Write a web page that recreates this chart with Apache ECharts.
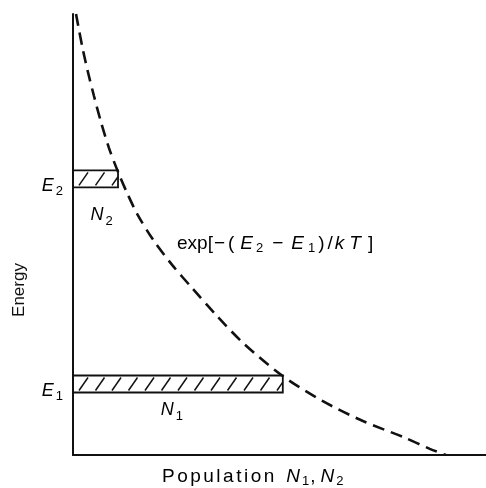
<!DOCTYPE html>
<html>
<head>
<meta charset="utf-8">
<script src="https://cdn.jsdelivr.net/npm/echarts@6/dist/echarts.min.js"></script>
<style>
  html, body { margin: 0; padding: 0; background: #fff; }
  #chart { width: 486px; height: 488px; }
</style>
</head>
<body>
<div id="chart"></div>
<script>
// Boltzmann distribution: population falls off with energy
const levelSubscripts  = ['2', '1'];         // E2 (upper), E1 (lower)
const levelEnergies    = [6.26, 1.61];       // energy of each level
const levelPopulations = [1.09, 5.08];       // N2, N1

// exp[-(E2 - E1)/kT] envelope: population vs energy
const curvePopulation = [0.073, 0.145, 0.242, 0.363, 0.508, 0.678, 0.872, 1.09, 1.31, 1.57, 1.94, 2.40, 2.88, 3.44, 4.12, 5.08, 6.05, 7.02, 7.99, 8.64, 9.03];
const curveEnergy     = [10.0, 9.64, 9.18, 8.68, 8.14, 7.55, 6.96, 6.42, 5.94, 5.44, 4.88, 4.31, 3.79, 3.20, 2.54, 1.79, 1.22, 0.77, 0.41, 0.14, 0.00];

const INK = '#111';
const FONT = '"Liberation Sans", Arial, sans-serif';

// rich-text building blocks: upright text, italic symbols, lowered subscripts
const baseStyles = {
  r: { fontFamily: FONT, fontSize: 18, color: INK, lineHeight: 18, verticalAlign: 'top' },
  i: { fontFamily: FONT, fontSize: 18, color: INK, lineHeight: 18, verticalAlign: 'top', fontStyle: 'italic' },
  R: { fontFamily: FONT, fontSize: 19, color: INK, lineHeight: 19, verticalAlign: 'top' },
  I: { fontFamily: FONT, fontSize: 19, color: INK, lineHeight: 19, verticalAlign: 'top', fontStyle: 'italic' },
  s: { fontFamily: FONT, fontSize: 13, color: INK, lineHeight: 13, verticalAlign: 'top' }
};
const SUB_DROP = 8;
const rich = {};
function tok(kind, text, pad) {
  pad = pad || 0;
  const name = kind + '_' + String(pad).replace('.', 'p');
  if (!rich[name]) {
    rich[name] = Object.assign({}, baseStyles[kind], {
      padding: [kind === 's' ? SUB_DROP : 0, 0, 0, pad]
    });
  }
  return '{' + name + '|' + text + '}';
}
function spaced(kind, str, gap) {
  return str.split('').map((ch, k) => tok(kind, ch, k === 0 ? 0 : gap)).join('');
}

// label placement around each level bar (pixels)
const nLabelShift = [[6, 19], [-6, 9]];
const BAND_HALF = 8.5;
const HATCH_STEP = 16.5;

const chart = echarts.init(document.getElementById('chart'), null, { renderer: 'canvas' });

const curveData = curvePopulation.map((p, k) => [p, curveEnergy[k]]);
const levelData = levelEnergies.map((e, k) => [e, levelPopulations[k]]);

const expLabel =
  tok('R', 'exp[') + tok('R', '−', 1) + tok('R', '(', 3) +
  tok('I', 'E', 6) + tok('s', '2', 3) + tok('R', '−', 9) +
  tok('I', 'E', 8) + tok('s', '1', 4) + tok('R', ')', 3) + tok('R', '/', 3) +
  tok('I', 'k', 2) + tok('I', 'T', 5) + tok('R', ']', 7);

const xTitle =
  spaced('R', 'Population', 2.5) +
  tok('I', 'N', 12) + tok('s', '1', 2) + tok('R', ',', 1) +
  tok('I', 'N', 5) + tok('s', '2', 2);

function renderLevel(params, api) {
  const k = params.dataIndex;
  const e = api.value(0);
  const n = api.value(1);
  const left = api.coord([0, e]);
  const right = api.coord([n, e]);
  const x0 = left[0], x1 = right[0];
  const y0 = left[1] - BAND_HALF, y1 = left[1] + BAND_HALF;
  const sub = levelSubscripts[k];
  const children = [
    { type: 'rect', shape: { x: x0, y: y0, width: x1 - x0, height: y1 - y0 },
      style: { fill: 'none', stroke: INK, lineWidth: 1.8 } }
  ];
  for (let hx = x0 + 6; hx < x1 - 2; hx += HATCH_STEP) {
    const xe = Math.min(hx + 9, x1);
    const ye = y1 - 2 - (xe - hx) / 9 * (y1 - y0 - 4);
    children.push({ type: 'line', shape: { x1: hx, y1: y1 - 2, x2: xe, y2: ye },
      style: { stroke: INK, lineWidth: 1.5 } });
  }
  children.push({ type: 'text', x: x0 - 10, y: left[1] - 2,
    style: { text: tok('i', 'E') + tok('s', sub, 2), rich: rich, align: 'right', verticalAlign: 'top' } });
  const sh = nLabelShift[k];
  children.push({ type: 'text', x: (x0 + x1) / 2 + sh[0], y: y1 + sh[1],
    style: { text: tok('i', 'N') + tok('s', sub, 2), rich: rich, align: 'center', verticalAlign: 'top' } });
  return { type: 'group', children: children };
}

chart.setOption({
  animation: false,
  backgroundColor: '#fff',
  grid: { left: 73, right: 0, top: 14, bottom: 33 },
  xAxis: {
    type: 'value', min: 0, max: 10,
    axisLine: { show: true, onZero: false, lineStyle: { color: INK, width: 2 } },
    axisTick: { show: false }, axisLabel: { show: false }, splitLine: { show: false }
  },
  yAxis: {
    type: 'value', min: 0, max: 10,
    axisLine: { show: true, onZero: false, lineStyle: { color: INK, width: 2 } },
    axisTick: { show: false }, axisLabel: { show: false }, splitLine: { show: false }
  },
  series: [
    {
      type: 'line',
      data: curveData,
      smooth: 0.3,
      showSymbol: false,
      symbol: 'none',
      lineStyle: { color: INK, width: 2.6, type: [12, 7], cap: 'butt' },
      z: 3
    },
    {
      type: 'custom',
      data: levelData,
      encode: { x: 1, y: 0 },
      renderItem: renderLevel,
      z: 4
    }
  ],
  graphic: [
    { type: 'text', left: 177, top: 234, style: { text: expLabel, rich: rich } },
    { type: 'text', left: 162, top: 467, style: { text: xTitle, rich: rich } },
    { type: 'text', x: 19, y: 290, rotation: Math.PI / 2,
      style: { text: 'Energy', font: '17px ' + FONT, fill: INK, align: 'center', verticalAlign: 'middle' } }
  ]
});
</script>
</body>
</html>
